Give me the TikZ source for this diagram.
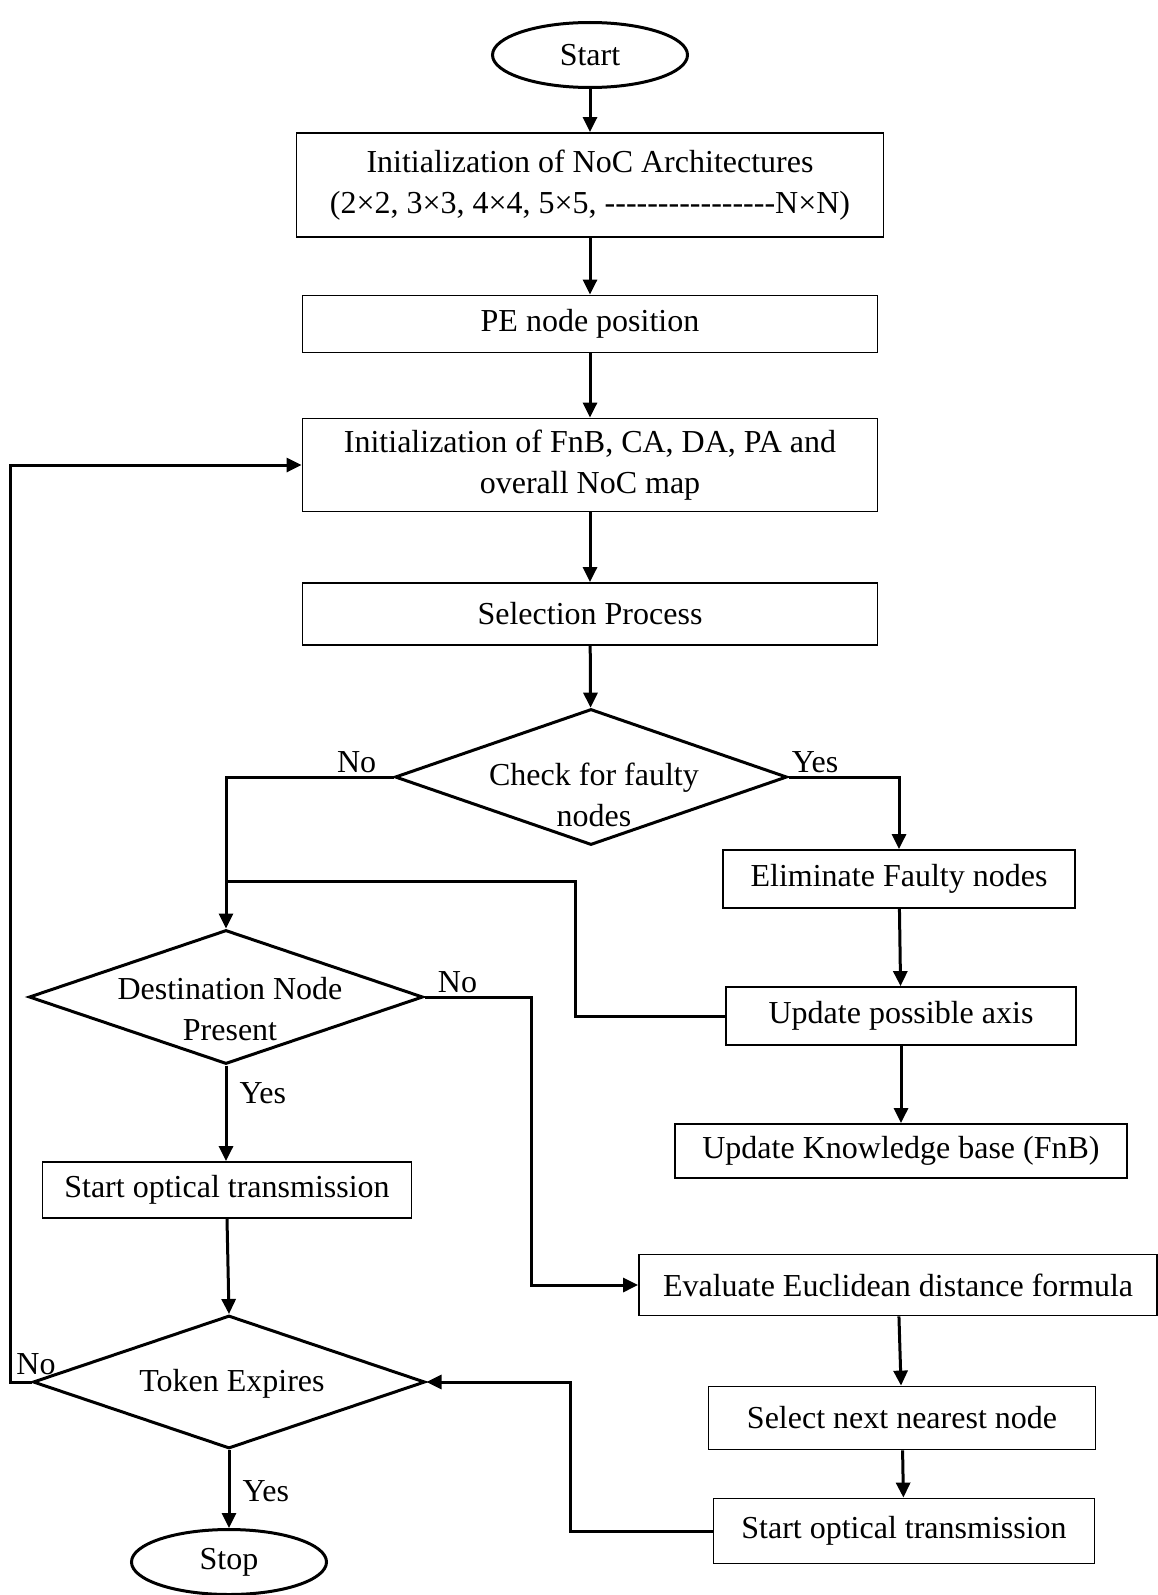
\documentclass[tikz,border=0pt]{standalone}
\usepackage{fontspec}
\setmainfont{Liberation Serif}[Ligatures=TeXOff]
\usetikzlibrary{arrows.meta,shapes.geometric,positioning}

\begin{document}
\begin{tikzpicture}[x=1pt,y=-1pt,->,>={Triangle[length=15pt,width=14pt]},
  line width=3pt,font=\fontsize{32}{41}\selectfont,
  terminal/.style={ellipse,draw,line width=3pt,minimum width=195pt,
    minimum height=65pt,inner sep=0pt},
  process/.style={rectangle,draw,line width=1.8pt,inner sep=0pt,align=center},
  decision/.style={diamond,draw,line width=3pt,inner sep=0pt},
  lbl/.style={inner sep=0pt}]
\useasboundingbox (0,0) rectangle (1158,1595);

% main column
\node[terminal] (Start) at (590,55) {Start};
\node[process,minimum width=587pt,minimum height=104pt] (Init) at (590,185)
  {Initialization of NoC Architectures\\(2×2, 3×3, 4×4, 5×5, ----------------N×N)};
\node[process,minimum width=575pt,minimum height=57pt] (PE) at (590,324) {PE node position};
\node[process,minimum width=575pt,minimum height=93pt] (FnB) at (590,465)
  {Initialization of FnB, CA, DA, PA and\\overall NoC map};
\node[process,minimum width=575pt,minimum height=62pt] (Select) at (590,614) {Selection Process};
\node[decision,minimum width=392pt,minimum height=136pt] (Check) at (591,777) {};
\node[align=center] (CheckTxt) at (594,795) {Check for faulty\\nodes};

% right branch
\node[process,minimum width=352pt,minimum height=58pt] (Elim) at (899,879) {Eliminate Faulty nodes};
\node[process,minimum width=350pt,minimum height=58pt] (Axis) at (901,1016) {Update possible axis};
\node[process,minimum width=452pt,minimum height=54pt] (Know) at (901,1151) {Update Knowledge base (FnB)};
\node[process,minimum width=518pt,minimum height=61pt] (Eval) at (898,1285) {Evaluate Euclidean distance formula};
\node[process,minimum width=387pt,minimum height=63pt] (Next) at (902,1418) {Select next nearest node};
\node[process,minimum width=381pt,minimum height=65pt] (OptB) at (904,1531) {Start optical transmission};

% left branch
\node[decision,minimum width=394pt,minimum height=134pt] (Dest) at (226,997) {};
\node[align=center] (DestTxt) at (230,1009) {Destination Node\\Present};
\node[process,minimum width=369pt,minimum height=56pt] (OptA) at (227,1190) {Start optical transmission};
\node[decision,minimum width=392pt,minimum height=133pt] (Token) at (229,1382) {};
\node (TokenTxt) at (232,1384) {Token Expires};
\node[terminal] (Stop) at (229,1562) {Stop};

\coordinate (AxisBend) at (575,881);
\coordinate (Join) at (226,881);
\coordinate (NoBend) at (531,1285);
\coordinate (LoopX) at (10,464);
\coordinate (BackBend) at (570,1382);

\draw (Start) -- (Init);
\draw (Init) -- (PE);
\draw (PE) -- (FnB);
\draw (FnB) -- (Select);
\draw (Select) -- (Check);
\draw (Check.west) -- node[lbl,above=3pt,pos=0.22] (NoA) {No} (Check.west -| Dest.north) -- (Dest.north);
\draw (Check.east) -- node[lbl,above=3pt,pos=0.24] (YesA) {Yes} (Check.east -| Elim.north) -- (Elim.north);
\draw (Elim) -- (Axis);
\draw (Axis) -- (Know);
\draw[-] (Axis.west) -| (AxisBend) -- (Join);
\draw (Dest.south) -- node[lbl,right=12pt,pos=0.29] (YesB) {Yes} (Dest.south |- OptA.north);
\draw (Dest.east) -- node[lbl,above=3pt,pos=0.31] (NoB) {No} (Dest.east -| NoBend) -- (NoBend) -- (Eval.west);
\draw (OptA.south) -- (Token.north);
\draw (Token.south) -- node[lbl,right=12pt,pos=0.53] (YesC) {Yes} (Stop.north);
\draw (Token.west) -- (Token.west -| LoopX) |- (FnB.west);
\node[lbl] (NoC) at (36,1364) {No};
\draw (Eval) -- (Next);
\draw (Next) -- (OptB);
\draw (OptB.west) -| (BackBend) -- (Token.east);
\end{tikzpicture}
\end{document}
